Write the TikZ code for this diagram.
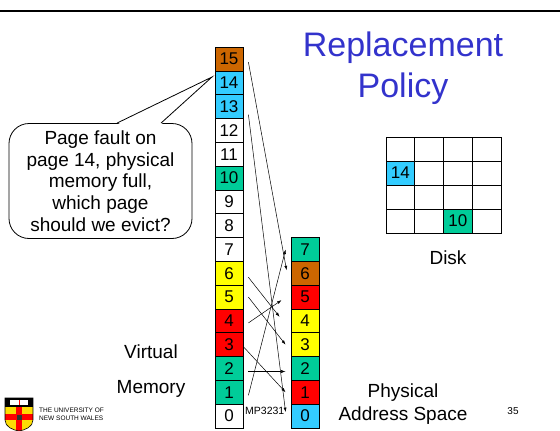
\documentclass[tikz,border=0pt]{standalone}
\usepackage{fontspec}
\setmainfont{Liberation Sans}
\usetikzlibrary{arrows.meta,positioning}

\definecolor{pgorange}{RGB}{204,102,0}
\definecolor{pgblue}{RGB}{51,204,255}
\definecolor{pggreen}{RGB}{0,204,153}
\definecolor{pgyellow}{RGB}{255,255,0}
\definecolor{pgred}{RGB}{255,0,0}
\definecolor{titleblue}{RGB}{51,51,204}

\tikzset{
  page/.style={draw, line width=0.8pt, minimum width=28pt, minimum height=23.8pt, inner sep=0pt, font=\fontsize{17}{17}\selectfont},
  map/.style={line width=0.5pt, -{Latex[length=4.5pt,width=3pt]}},
  lbl/.style={font=\fontsize{19}{21.75}\selectfont, align=center, inner sep=0pt},
  titletext/.style={font=\fontsize{34}{41}\selectfont, text=titleblue, inner sep=0pt, anchor=base},
}

\begin{document}
\begin{tikzpicture}[x=1pt, y=-1pt]
    \useasboundingbox (0,0) rectangle (560,431);
    \draw[line width=2.5pt] (0,11) -- (560,11);

    % title
    \node[titletext] (ttl1) at (403,56) {Replacement};
    \node[titletext] (ttl2) at (403,97) {Policy};

    % footer
    \node[font=\fontsize{10.5}{10.5}\selectfont, inner sep=0pt, anchor=base west] (course) at (245,414) {MP3231};
    \node[font=\fontsize{10}{10}\selectfont, inner sep=0pt, anchor=base] (slideno) at (513,414.5) {35};

    % virtual memory
    \node[page, fill=pgorange] (v15) at (229,59.1) {15};
    \node[page, fill=pgblue] (v14) at (229,82.9) {14};
    \node[page, fill=pgblue] (v13) at (229,106.7) {13};
    \node[page, fill=white] (v12) at (229,130.5) {12};
    \node[page, fill=white] (v11) at (229,154.3) {11};
    \node[page, fill=pggreen] (v10) at (229,178.1) {10};
    \node[page, fill=white] (v9) at (229,201.9) {9};
    \node[page, fill=white] (v8) at (229,225.7) {8};
    \node[page, fill=white] (v7) at (229,249.5) {7};
    \node[page, fill=pgyellow] (v6) at (229,273.3) {6};
    \node[page, fill=pgyellow] (v5) at (229,297.1) {5};
    \node[page, fill=pgred] (v4) at (229,320.9) {4};
    \node[page, fill=pgred] (v3) at (229,344.7) {3};
    \node[page, fill=pggreen] (v2) at (229,368.5) {2};
    \node[page, fill=pggreen] (v1) at (229,392.3) {1};
    \node[page, fill=white] (v0) at (229,416.1) {0};

    % physical memory
    \node[page, fill=pggreen] (p7) at (305,249.5) {7};
    \node[page, fill=pgorange] (p6) at (305,273.3) {6};
    \node[page, fill=pgred] (p5) at (305,297.1) {5};
    \node[page, fill=pgyellow] (p4) at (305,320.9) {4};
    \node[page, fill=pgyellow] (p3) at (305,344.7) {3};
    \node[page, fill=pggreen] (p2) at (305,368.5) {2};
    \node[page, fill=pgred] (p1) at (305,392.3) {1};
    \node[page, fill=pgblue] (p0) at (305,416.1) {0};

    % mappings
    \draw[map] ([xshift=5pt,yshift=-3pt]v15.east) -- ([xshift=-4pt,yshift=3pt]p6.west);
    \draw[map] ([xshift=5pt,yshift=-8pt]v13.east) -- ([xshift=-5pt,yshift=4pt]p0.west);
    \draw[map] ([xshift=5pt,yshift=-4pt]v6.east) -- ([xshift=-11pt,yshift=4pt]p4.west);
    \draw[map] ([xshift=5pt]v5.east) -- ([xshift=-5pt]p3.west);
    \draw[map] ([xshift=5pt,yshift=-2pt]v4.east) -- ([xshift=-9pt,yshift=-3pt]p5.west);
    \draw[map] ([yshift=-2pt]v3.east) -- ([xshift=-5pt]p1.west);
    \draw[map] ([xshift=5pt,yshift=-3pt]v2.east) -- ([xshift=-5pt,yshift=-3pt]p2.west);
    \draw[map] ([xshift=5pt,yshift=-3pt]v1.east) -- ([xshift=-5pt]p7.west);

    % disk
    \draw[line width=0.8pt] (386,137) rectangle (501,233);
    \draw[line width=0.8pt] (414.75,137) -- (414.75,233);
    \draw[line width=0.8pt] (443.5,137) -- (443.5,233);
    \draw[line width=0.8pt] (472.25,137) -- (472.25,233);
    \draw[line width=0.8pt] (386,161) -- (501,161);
    \draw[line width=0.8pt] (386,185) -- (501,185);
    \draw[line width=0.8pt] (386,209) -- (501,209);
    \node[page, fill=pgblue, minimum width=28.75pt, minimum height=24pt] (d14) at (400.4,173) {14};
    \node[page, fill=pggreen, minimum width=28.75pt, minimum height=24pt] (d10) at (457.9,221) {10};
    \node[lbl, anchor=base] (disk) at (448,264) {Disk};

    % labels
    \node[lbl, anchor=base] (virt1) at (151,358) {Virtual};
    \node[lbl, anchor=base] (virt2) at (151,393) {Memory};
    \node[lbl, anchor=base] (phys1) at (403,397) {Physical};
    \node[lbl, anchor=base] (phys2) at (403,420) {Address Space};

    % callout
    \node[lbl, draw, line width=0.8pt, fill=white, rounded corners=20pt, minimum width=183pt, minimum height=115pt] (fault) at (100.5,181) {Page fault on\\page 14, physical\\memory full,\\which page\\should we evict?};
    \coordinate (faulttip) at (212,77);
    \fill[white] ([xshift=16.5pt,yshift=-1.5pt]fault.north) -- (faulttip) -- ([xshift=60.5pt,yshift=-1.5pt]fault.north) -- cycle;
    \draw[line width=0.8pt] ([xshift=16.5pt]fault.north) -- (faulttip) -- ([xshift=60.5pt]fault.north);

    % university logo
    \begin{scope}
        \clip (5,398) -- (33,398) -- (33,420) .. controls (33,427) and (25,430) .. (19,431) .. controls (13,430) and (5,427) .. (5,420) -- cycle;
        \fill[yellow!80!orange] (5,398) rectangle (33,431);
        \fill[pgred] (16,407) rectangle (22,431);
        \fill[pgred] (5,414) rectangle (33,420);
        \fill[black] (5,398) rectangle (33,407);
        \fill[white] (10,400) rectangle (28,405);
        \draw[pgred, line width=0.8pt] (19,400) -- (19,405);
        \fill[black!80] (16.5,414.5) rectangle (21.5,419.5);
    \end{scope}
    \draw[line width=0.6pt] (5,398) -- (33,398) -- (33,420) .. controls (33,427) and (25,430) .. (19,431) .. controls (13,430) and (5,427) .. (5,420) -- cycle;
    \node[font=\fontsize{6.5}{6.5}\selectfont, inner sep=0pt, anchor=base west] (uni1) at (39,412.3) {THE UNIVERSITY OF};
    \node[font=\fontsize{6.5}{6.5}\selectfont, inner sep=0pt, anchor=base west] (uni2) at (39,420.3) {NEW SOUTH WALES};
\end{tikzpicture}
\end{document}
